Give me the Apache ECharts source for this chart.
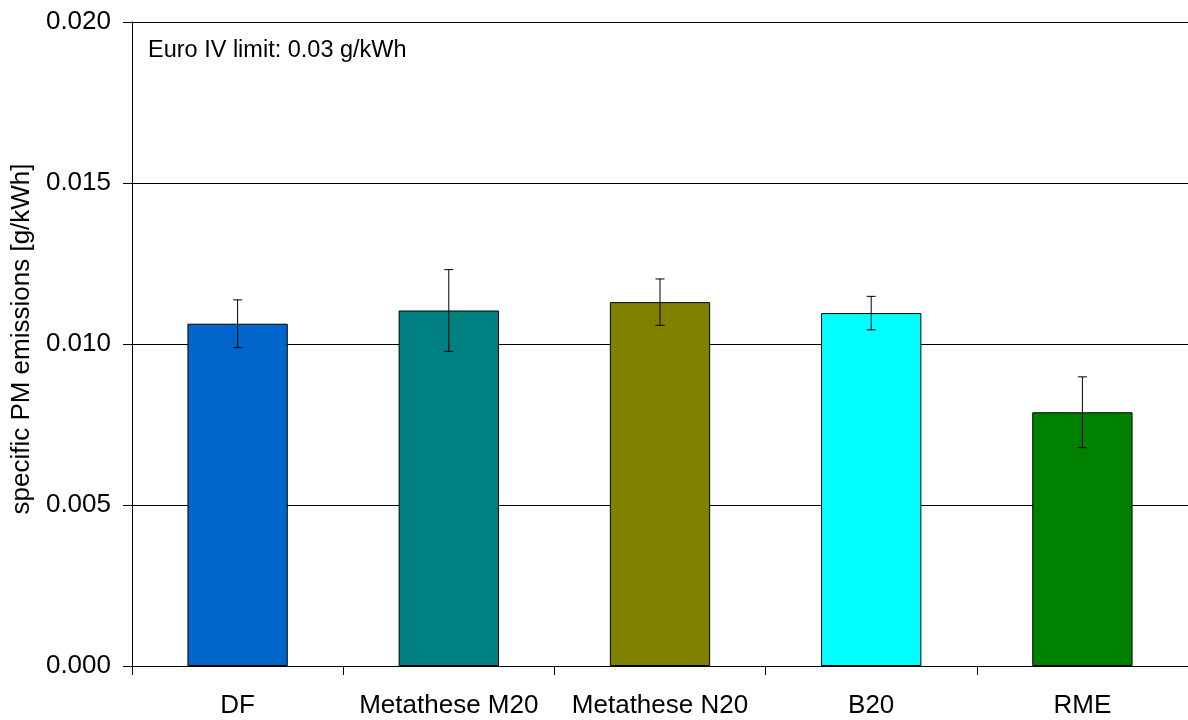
<!DOCTYPE html>
<html>
<head>
<meta charset="utf-8">
<title>specific PM emissions</title>
<script src="https://cdn.jsdelivr.net/npm/echarts@6/dist/echarts.min.js"></script>
<style>
  html, body { margin: 0; padding: 0; background: #ffffff; }
  #chart { width: 1188px; height: 720px; }
</style>
</head>
<body>
<div id="chart"></div>
<script>
// Fuels tested
const categories = ['DF', 'Metathese M20', 'Metathese N20', 'B20', 'RME'];
// Mean specific PM emissions [g/kWh]
const pmValues = [0.01063, 0.01104, 0.01130, 0.01096, 0.00788];
// Standard deviation (symmetric error bars) [g/kWh]
const pmErrors = [0.00074, 0.00127, 0.00072, 0.00052, 0.00110];
// Bar fill per fuel
const barColors = ['#0066CC', '#008080', '#808000', '#00FFFF', '#008000'];
// Y axis ticks
const yMin = 0, yMax = 0.020, yStep = 0.005;

const FONT = "'Liberation Sans', Arial, Helvetica, sans-serif";

const chart = echarts.init(document.getElementById('chart'), null, { renderer: 'canvas' });

const barData = pmValues.map((v, i) => ({
  value: v,
  itemStyle: { color: barColors[i] }
}));

const errData = pmValues.map((v, i) => [i, v - pmErrors[i], v + pmErrors[i]]);

function renderErrorBar(params, api) {
  const x = api.value(0);
  const lo = api.coord([x, api.value(1)]);
  const hi = api.coord([x, api.value(2)]);
  const half = 4.5;
  const style = { stroke: '#000000', lineWidth: 1 };
  return {
    type: 'group',
    children: [
      { type: 'line', shape: { x1: hi[0], y1: hi[1], x2: lo[0], y2: lo[1] }, style },
      { type: 'line', shape: { x1: hi[0] - half, y1: hi[1], x2: hi[0] + half, y2: hi[1] }, style },
      { type: 'line', shape: { x1: lo[0] - half, y1: lo[1], x2: lo[0] + half, y2: lo[1] }, style }
    ]
  };
}

chart.setOption({
  animation: false,
  backgroundColor: '#ffffff',
  textStyle: { fontFamily: FONT },
  grid: { left: 132, right: 0, top: 22, bottom: 54, containLabel: false },
  xAxis: {
    type: 'category',
    data: categories,
    boundaryGap: true,
    axisLine: { show: true, lineStyle: { color: '#000000', width: 1 } },
    axisTick: { show: true, alignWithLabel: false, length: 9, lineStyle: { color: '#000000' } },
    axisLabel: { color: '#000000', fontSize: 26, fontFamily: FONT, margin: 27, interval: 0 },
    splitLine: { show: false }
  },
  yAxis: {
    type: 'value',
    min: yMin,
    max: yMax,
    interval: yStep,
    name: 'specific PM emissions [g/kWh]',
    nameLocation: 'middle',
    nameRotate: 90,
    nameGap: 88,
    nameTextStyle: { color: '#000000', fontSize: 26, fontFamily: FONT, padding: [0, 0, 0, 10] },
    axisLine: { show: true, lineStyle: { color: '#000000', width: 1 } },
    axisTick: { show: true, length: 9, lineStyle: { color: '#000000' } },
    axisLabel: {
      color: '#000000', fontSize: 26, fontFamily: FONT, margin: 21,
      formatter: v => v.toFixed(3)
    },
    splitLine: { show: true, lineStyle: { color: '#000000', width: 1 } }
  },
  graphic: [{
    type: 'text',
    left: 148,
    top: 39,
    style: { text: 'Euro IV limit: 0.03 g/kWh', fill: '#000000', font: '23.5px ' + FONT }
  }],
  series: [
    {
      type: 'bar',
      data: barData,
      barWidth: '47.5%',
      itemStyle: { borderColor: '#000000', borderWidth: 1 },
      z: 2
    },
    {
      type: 'custom',
      renderItem: renderErrorBar,
      data: errData,
      encode: { x: 0, y: [1, 2] },
      z: 3
    }
  ]
});
</script>
</body>
</html>
